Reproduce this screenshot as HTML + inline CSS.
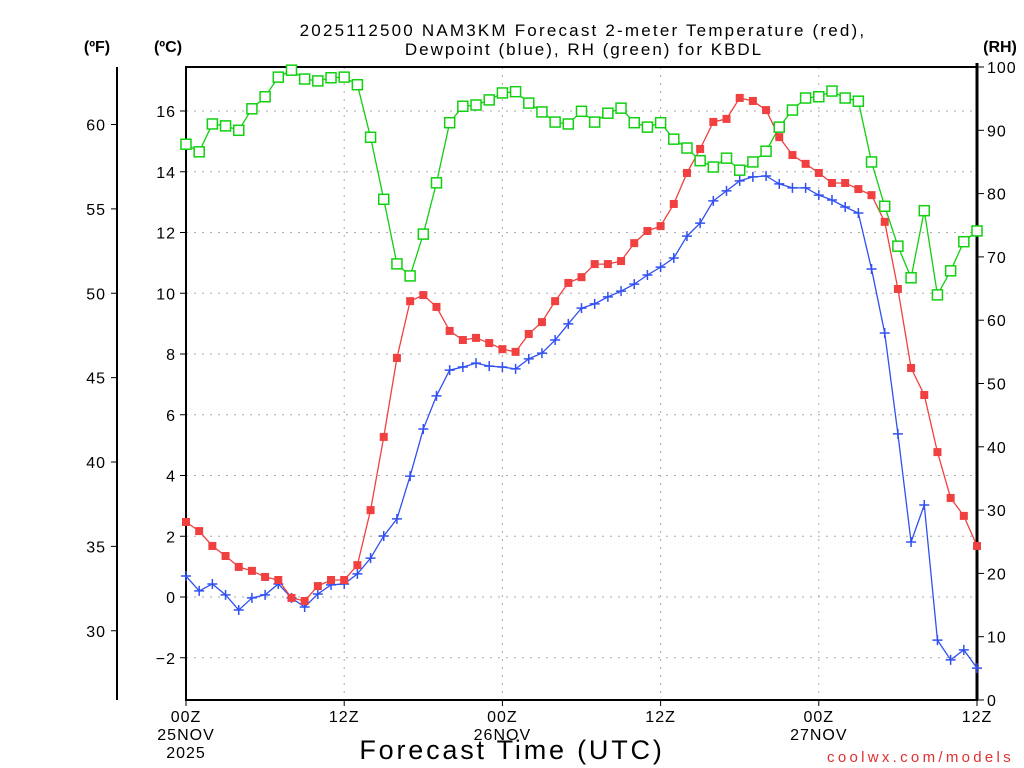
<!DOCTYPE html>
<html><head><meta charset="utf-8"><style>
body{margin:0;background:#fff;}
svg{display:block;font-family:"Liberation Sans",sans-serif;}
</style></head><body>
<svg id="chart" width="1024" height="768" viewBox="0 0 1024 768" xmlns="http://www.w3.org/2000/svg">
<rect width="1024" height="768" fill="#fff"/>
<text x="583" y="36" text-anchor="middle" font-size="17" letter-spacing="2.2">2025112500 NAM3KM Forecast 2-meter Temperature (red),</text>
<text x="584" y="55" text-anchor="middle" font-size="17" letter-spacing="2">Dewpoint (blue), RH (green) for KBDL</text>
<text x="97" y="52" text-anchor="middle" font-size="16" font-weight="bold">(ºF)</text>
<text x="168" y="52" text-anchor="middle" font-size="16" font-weight="bold">(ºC)</text>
<text x="1000" y="52" text-anchor="middle" font-size="16" font-weight="bold">(RH)</text>
<text x="512" y="759" text-anchor="middle" font-size="27" letter-spacing="2.8">Forecast Time (UTC)</text>
<text x="1014" y="762" text-anchor="end" font-size="15" fill="#e03030" letter-spacing="3.3">coolwx.com/models</text>
<g id="grid"></g><g id="axes"></g><g id="series"></g>
</svg>
<script>
const hours = Array.from({length:61},(_,i)=>i);
const tempC = [2.47,2.17,1.68,1.35,0.99,0.86,0.66,0.56,-0.03,-0.13,0.36,0.56,0.56,1.05,2.86,5.27,7.87,9.74,9.94,9.55,8.76,8.46,8.53,8.36,8.16,8.07,8.66,9.05,9.74,10.34,10.53,10.96,10.96,11.06,11.65,12.05,12.21,12.94,13.96,14.75,15.64,15.74,16.43,16.33,16.03,15.14,14.55,14.26,13.96,13.63,13.63,13.43,13.23,12.35,10.14,7.54,6.65,4.77,3.26,2.67,1.68];
const dewC = [0.69,0.20,0.43,0.07,-0.43,-0.03,0.07,0.43,-0.03,-0.33,0.10,0.40,0.43,0.76,1.28,2.01,2.57,3.98,5.53,6.62,7.47,7.57,7.70,7.60,7.57,7.51,7.84,8.03,8.46,8.99,9.51,9.65,9.88,10.07,10.30,10.60,10.86,11.16,11.88,12.31,13.04,13.37,13.70,13.83,13.86,13.60,13.47,13.47,13.23,13.07,12.84,12.64,10.80,8.69,5.37,1.81,3.03,-1.42,-2.07,-1.74,-2.34];
const rh = [87.8,86.6,91.0,90.7,90.0,93.4,95.3,98.4,99.5,98.1,97.8,98.3,98.4,97.2,88.9,79.1,68.9,67.0,73.6,81.7,91.2,93.8,94.0,94.8,95.9,96.1,94.3,92.9,91.3,91.0,93.0,91.3,92.7,93.5,91.2,90.5,91.2,88.6,87.2,85.2,84.2,85.6,83.7,85.0,86.7,90.5,93.2,95.1,95.3,96.2,95.1,94.6,85.0,78.0,71.7,66.7,77.3,64.0,67.8,72.4,74.1];
const cTicks = [-2,0,2,4,6,8,10,12,14,16];
const fTicks = [30,35,40,45,50,55,60];
const rhTicks = [0,10,20,30,40,50,60,70,80,90,100];
const xTickHours = [0,12,24,36,48,60];
const xTickLabels = [["00Z","25NOV","2025"],["12Z"],["00Z","26NOV"],["12Z"],["00Z","27NOV"],["12Z"]];

const X0=186,X1=977,Y0=67,Y1=700;
const x = h => X0 + (h/60)*(X1-X0);
const yC = c => 597 - c*30.375;
const yF = f => yC((f-32)/1.8);
const yRH = r => Y1 - r*(Y1-Y0)/100;
const NS="http://www.w3.org/2000/svg";
function mk(tag, attrs, parent){const e=document.createElementNS(NS,tag);for(const k in attrs)e.setAttribute(k,attrs[k]);parent.appendChild(e);return e;}
const grid=document.getElementById('grid'), axes=document.getElementById('axes'), ser=document.getElementById('series');

cTicks.forEach(c=>{
  const g=mk('line',{x1:X0,x2:X1,y1:yC(c),y2:yC(c),stroke:'#aaa','stroke-dasharray':'2,6'},grid);
  
  
  const t=mk('line',{x1:X0-6,x2:X0,y1:yC(c),y2:yC(c),stroke:'#000'},axes);
  
  
  const l=mk('text',{x:X0-10,y:yC(c)+6,'text-anchor':'end','font-size':'16','letter-spacing':'1'},axes);
  l.textContent=(c<0?'\u22122':String(c));
  
  
});
fTicks.forEach(f=>{
  const t=mk('line',{x1:111,x2:117,y1:yF(f),y2:yF(f),stroke:'#000'},axes);
  
  
  const l=mk('text',{x:106,y:yF(f)+6,'text-anchor':'end','font-size':'16','letter-spacing':'1'},axes);
  l.textContent=String(f);
  
  
});
rhTicks.forEach(r=>{
  const t=mk('line',{x1:X1,x2:X1+7,y1:yRH(r),y2:yRH(r),stroke:'#000'},axes);
  
  
  const l=mk('text',{x:X1+10,y:yRH(r)+6,'text-anchor':'start','font-size':'16','letter-spacing':'1'},axes);
  l.textContent=String(r);
  
  
});
xTickHours.forEach((h,i)=>{
  if(h>0&&h<60){
    const g=mk('line',{x1:x(h),x2:x(h),y1:Y0,y2:Y1,stroke:'#aaa','stroke-dasharray':'2,6'},grid);
    
    
  }
  const t=mk('line',{x1:x(h),x2:x(h),y1:Y1,y2:Y1+6,stroke:'#000'},axes);
  
  
  xTickLabels[i].forEach((s,j)=>{
    const l=mk('text',{x:x(h),y:722+j*18,'text-anchor':'middle','font-size':'16','letter-spacing':'1'},axes);
    l.textContent=s;
    
    
  });
});
let a;
a=mk('line',{x1:117,x2:117,y1:Y0,y2:Y1,stroke:'#000','stroke-width':2},axes);


a=mk('rect',{x:X0,y:Y0,width:X1-X0,height:Y1-Y0,fill:'none',stroke:'#000','stroke-width':2},axes);


a=mk('line',{x1:X1,x2:X1,y1:Y0-4,y2:Y1,stroke:'#000','stroke-width':3},axes);



function line(vals, yf, color, name){
  const p=mk('polyline',{points:vals.map((v,i)=>x(hours[i])+','+yf(v)).join(' '),fill:'none',stroke:color,'stroke-width':1.3},ser);
  
  
}
line(rh,yRH,'#10d010','rh-line');
line(dewC,yC,'#3050f0','dewpoint-line');
line(tempC,yC,'#f04040','temperature-line');
rh.forEach((v,i)=>{
  const m=mk('rect',{x:x(hours[i])-5,y:yRH(v)-5,width:10,height:10,fill:'#fff',stroke:'#10d010','stroke-width':1.5},ser);
  
  
});
dewC.forEach((v,i)=>{
  const cx=x(hours[i]),cy=yC(v);
  const m=mk('path',{d:`M${cx-5},${cy}H${cx+5}M${cx},${cy-5}V${cy+5}`,stroke:'#3050f0','stroke-width':1.5},ser);
  
  
});
tempC.forEach((v,i)=>{
  const m=mk('rect',{x:x(hours[i])-4,y:yC(v)-4,width:8,height:8,fill:'#f04040'},ser);
  
  
});
</script>
</body></html>
